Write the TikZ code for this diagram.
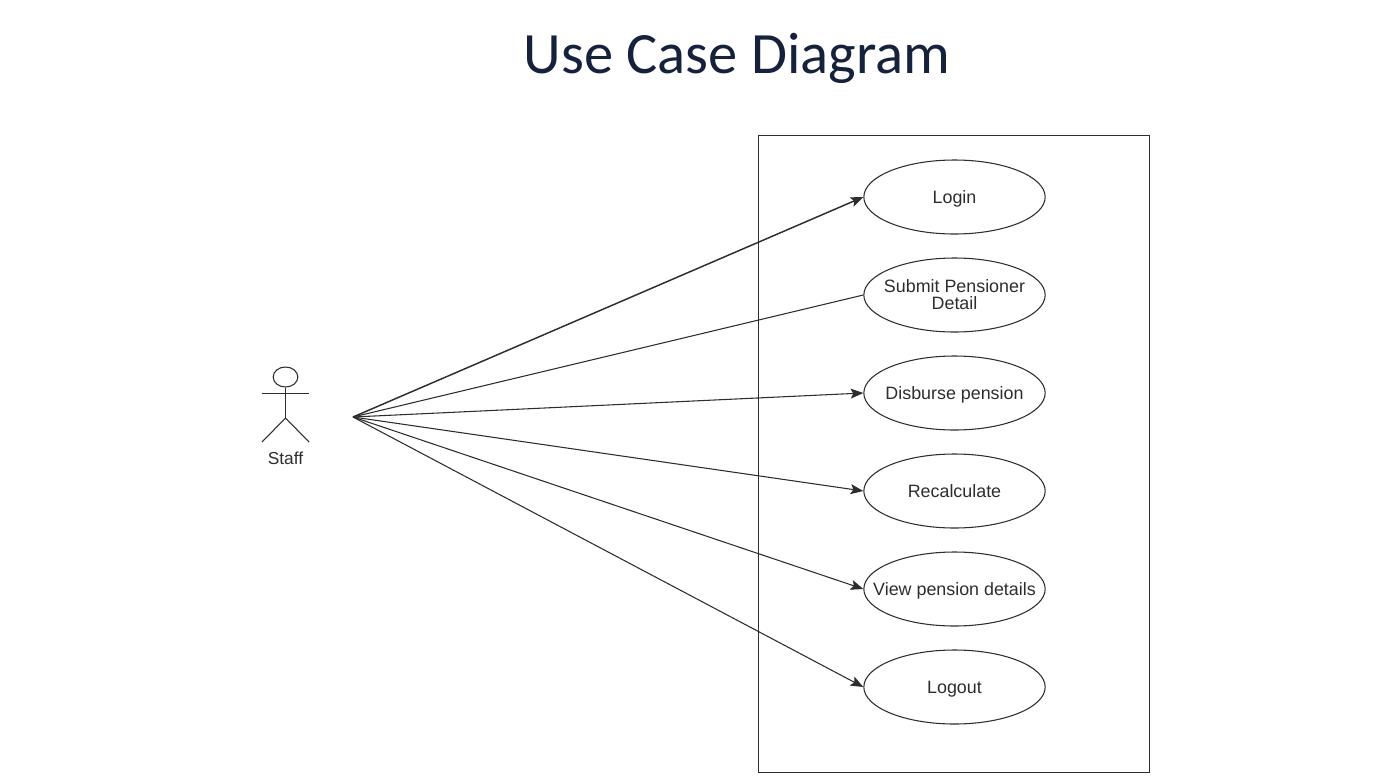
\documentclass[tikz,border=0pt]{standalone}
\usepackage{fontspec}
\setmainfont{Liberation Sans}
\newfontfamily\titlefont{Carlito}
\usepackage{tikz}
\usetikzlibrary{arrows.meta, shapes.geometric}
\definecolor{titleblue}{RGB}{22, 34, 60}
\definecolor{inkgray}{RGB}{45, 45, 45}
\tikzset{
  usecase/.style={draw=inkgray, ellipse, line width=0.8pt, minimum width=136pt, minimum height=55.5pt, inner xsep=-20pt, inner ysep=0pt, align=center, text=inkgray, font=\fontsize{13.4}{12.75}\selectfont},
  onerow/.style={usecase, text height=9.8pt, text depth=0pt},
  link/.style={draw=inkgray, line width=0.8pt, -{Stealth[length=9.5pt, width=7.5pt, inset=2pt]}},
  limb/.style={draw=inkgray, line width=0.8pt},
}
\begin{document}
\begin{tikzpicture}[x=0.75pt, y=-0.75pt]

  % page
  \useasboundingbox (0,0) rectangle (1386,779);

  % title
  \node[titleblue, font=\titlefont\fontsize{43.9}{46}\selectfont] (title) at (737,58) {Use Case Diagram};

  % system box
  \node[draw=inkgray, line width=0.9pt, minimum width=293pt, minimum height=477.5pt, inner sep=0pt] (system) at (954,454) {};

  % use cases
  \node[onerow] (login) at (954.5,197) {Login};
  \node[usecase] (submit) at (954.5,295) {Submit Pensioner\\Detail};
  \node[onerow] (disburse) at (954.5,393) {Disburse pension};
  \node[onerow] (recalc) at (954.5,491) {Recalculate};
  \node[onerow] (view) at (954.5,589) {View pension details};
  \node[onerow] (logout) at (954.5,687) {Logout};

  % actor
  \node[draw=inkgray, ellipse, line width=0.8pt, minimum width=18.5pt, minimum height=15pt, inner sep=0pt] (head) at (285.5,377) {};
  \coordinate (hip) at (285.5,418);
  \coordinate (armL) at (262,393.4);
  \coordinate (armR) at (309,393.4);
  \coordinate (footL) at (262,442);
  \coordinate (footR) at (309,442);
  \draw[limb] (head) -- (hip);
  \draw[limb] (armL) -- (armR);
  \draw[limb] (footL) -- (hip) -- (footR);
  \node[text=inkgray, font=\fontsize{13}{13}\selectfont] (staff) at (285.5,458) {Staff};

  % links
  \coordinate (from) at (353,417);
  \draw[link, line width=1.1pt] (from) -- (login.west);
  \draw[limb] (from) -- (submit.west);
  \draw[link] (from) -- (disburse.west);
  \draw[link] (from) -- (recalc.west);
  \draw[link] (from) -- (view.west);
  \draw[link] (from) -- (logout.west);

\end{tikzpicture}
\end{document}
